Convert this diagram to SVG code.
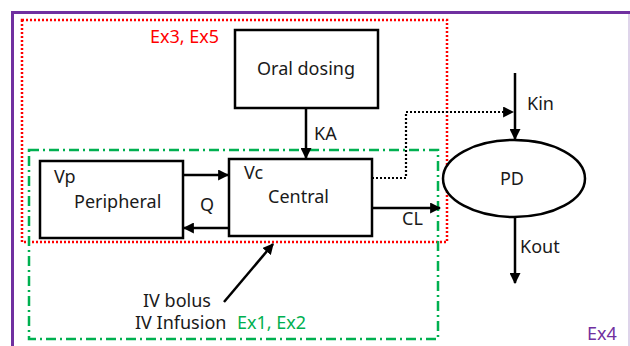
<svg xmlns="http://www.w3.org/2000/svg" width="630" height="346" viewBox="0 0 630 346">
<defs>
<style>
.t{font-family:"Noto Sans","Open Sans","DejaVu Sans",sans-serif;font-size:18px;fill:#1a1a1a}
.box{fill:#fff;stroke:#000;stroke-width:2.5}
.ar{stroke:#000;stroke-width:2.5;fill:none}
</style>
<marker id="ah" viewBox="0 0 10 10" refX="9" refY="5" markerWidth="4.4" markerHeight="4.4" orient="auto" markerUnits="strokeWidth">
<path d="M0,0 L10,5 L0,10 z" fill="#000"/>
</marker>
<marker id="ahs" viewBox="0 0 10 10" refX="9" refY="5" markerWidth="5" markerHeight="5" orient="auto" markerUnits="strokeWidth">
<path d="M0,0 L10,5 L0,10 z" fill="#000"/>
</marker>
</defs>
<rect width="630" height="346" fill="#fff"/>
<g id="frame-ex4">
<line x1="629" y1="12" x2="629" y2="346" stroke="#c9b8dc" stroke-width="1.2"/>
<line x1="11" y1="12.5" x2="630" y2="12.5" stroke="#7030A0" stroke-width="3"/>
<line x1="12.5" y1="11" x2="12.5" y2="346" stroke="#7030A0" stroke-width="3"/>
<text class="t" x="587" y="340" style="fill:#7030A0">Ex4</text>
</g>
<g id="group-ex3-ex5">
<rect x="22" y="20" width="425" height="222" fill="none" stroke="#FF0000" stroke-width="2.5" stroke-dasharray="2 2"/>
<text class="t" x="150" y="43" style="fill:#FF0000">Ex3, Ex5</text>
</g>
<g id="group-ex1-ex2">
<rect x="29" y="150" width="409" height="189" fill="none" stroke="#00B050" stroke-width="2.5" stroke-dasharray="10 4 2 4"/>
<text class="t" x="237" y="329" style="fill:#00B050">Ex1, Ex2</text>
</g>
<g id="oral-dosing">
<rect class="box" x="235" y="30" width="143" height="78"/>
<text class="t" x="306" y="75" text-anchor="middle">Oral dosing</text>
</g>
<g id="peripheral">
<rect class="box" x="40" y="161" width="143" height="77"/>
<text class="t" x="54" y="183">Vp</text>
<text class="t" x="74" y="208">Peripheral</text>
</g>
<g id="central">
<rect class="box" x="229" y="159" width="143" height="77"/>
<text class="t" x="244" y="179">Vc</text>
<text class="t" x="268" y="203">Central</text>
</g>
<g id="pd">
<ellipse cx="514" cy="178.5" rx="71" ry="38.5" fill="#fff" stroke="#000" stroke-width="2.5"/>
<text class="t" x="512" y="185" text-anchor="middle">PD</text>
</g>
<g id="iv-dosing">
<text class="t" x="143" y="307">IV bolus</text>
<text class="t" x="135" y="329">IV Infusion</text>
</g>
<g id="connectors">
<line class="ar" x1="306" y1="108" x2="306" y2="158" marker-end="url(#ah)"/>
<text class="t" x="314" y="140">KA</text>
<line class="ar" x1="183" y1="175" x2="228" y2="175" marker-end="url(#ah)"/>
<line class="ar" x1="229" y1="228" x2="184" y2="228" marker-end="url(#ah)"/>
<text class="t" x="200" y="211">Q</text>
<line class="ar" x1="372" y1="208" x2="440" y2="208" marker-end="url(#ah)"/>
<text class="t" x="402" y="225">CL</text>
<polyline points="372,178 406,178 406,112 513,112" fill="none" stroke="#000" stroke-width="2.2" stroke-dasharray="2 2" marker-end="url(#ahs)"/>
<line class="ar" x1="515" y1="73" x2="515" y2="139" marker-end="url(#ah)"/>
<text class="t" x="527" y="110">Kin</text>
<line class="ar" x1="515" y1="217" x2="515" y2="283" marker-end="url(#ah)"/>
<text class="t" x="520" y="253">Kout</text>
<line class="ar" x1="224" y1="302" x2="273" y2="244" marker-end="url(#ah)"/>
</g>
</svg>
